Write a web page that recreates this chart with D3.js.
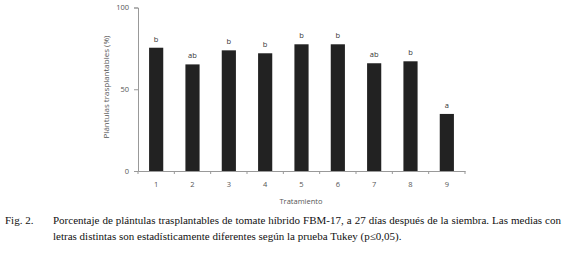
<!DOCTYPE html>
<html>
<head>
<meta charset="utf-8">
<script src="https://cdn.jsdelivr.net/npm/d3@7"></script>
<style>
  body { margin: 0; background: #fff; }
  svg text { font-family: "Open Sans", "DejaVu Sans", sans-serif; }
  svg text.caption { font-family: "Liberation Serif", serif; font-size: 11px; fill: #111; }
</style>
</head>
<body>
<div id="chart"></div>
<script>
// Fig. 2 - plántulas trasplantables por tratamiento
var categories = ["1", "2", "3", "4", "5", "6", "7", "8", "9"];
var values = [75.4, 65.2, 73.8, 72, 77.5, 77.5, 65.9, 67.1, 34.9];
var letters = ["b", "ab", "b", "b", "b", "b", "ab", "b", "a"];
var yTicks = [0, 50, 100];

var width = 563, height = 258;
var plotLeft = 138, plotRight = 465, plotTop = 7.5, plotBottom = 171;

var svg = d3.select("#chart").append("svg")
  .attr("width", width)
  .attr("height", height);

var x = d3.scaleBand().domain(categories).range([plotLeft, plotRight]).paddingInner(0.61).paddingOuter(0.305);
var y = d3.scaleLinear().domain([0, 100]).range([plotBottom, plotTop]);

// bars
svg.append("g").selectAll("rect")
  .data(values)
  .enter().append("rect")
  .attr("x", function(d, i) { return x(categories[i]); })
  .attr("y", function(d) { return y(d); })
  .attr("width", x.bandwidth())
  .attr("height", function(d) { return plotBottom - y(d); })
  .attr("fill", "#222");

// letters
svg.append("g").selectAll("text")
  .data(values)
  .enter().append("text")
  .attr("x", function(d, i) { return x(categories[i]) + x.bandwidth() / 2; })
  .attr("y", function(d) { return y(d) - 6; })
  .attr("text-anchor", "middle")
  .attr("font-size", "7.5px")
  .attr("fill", "#333")
  .text(function(d, i) { return letters[i]; });

// y axis
var yAxis = svg.append("g")
  .attr("transform", "translate(" + plotLeft + ",0)")
  .call(d3.axisLeft(y).tickValues(yTicks).tickSize(4).tickPadding(5));
yAxis.select(".domain").attr("stroke", "#999");
yAxis.selectAll(".tick line").attr("stroke", "#999");
yAxis.selectAll(".tick text").attr("font-size", "7.5px").attr("fill", "#555");

// x axis, ticks between categories
var xAxis = svg.append("g")
  .attr("transform", "translate(0," + plotBottom + ")")
  .call(d3.axisBottom(x).tickSize(0).tickPadding(11));
xAxis.select(".domain").attr("stroke", "#999");
xAxis.selectAll(".tick text").attr("font-size", "7.5px").attr("fill", "#555");
var step = x.step();
svg.append("g").selectAll("line")
  .data(d3.range(categories.length + 1))
  .enter().append("line")
  .attr("x1", function(i) { return plotLeft + i * step; })
  .attr("x2", function(i) { return plotLeft + i * step; })
  .attr("y1", plotBottom)
  .attr("y2", plotBottom + 3)
  .attr("stroke", "#999");

// axis titles
svg.append("text")
  .attr("transform", "translate(107,87) rotate(-90)")
  .attr("text-anchor", "middle")
  .attr("dominant-baseline", "middle")
  .attr("font-size", "8px")
  .attr("fill", "#555")
  .text("Plántulas trasplantables (%)");

svg.append("text")
  .attr("x", 301)
  .attr("y", 204)
  .attr("text-anchor", "middle")
  .attr("font-size", "7.5px")
  .attr("fill", "#555")
  .text("Tratamiento");

// caption
svg.append("text").attr("class", "caption").attr("x", 5).attr("y", 224).text("Fig. 2.");
var line1 = svg.append("text").attr("class", "caption").attr("x", 53).attr("y", 224)
  .text("Porcentaje de plántulas trasplantables de tomate híbrido FBM-17, a 27 días después de la siembra. Las medias con");
svg.append("text").attr("class", "caption").attr("x", 53).attr("y", 239.5)
  .text("letras distintas son estadísticamente diferentes según la prueba Tukey (p≤0,05).");

// justify first line to the right margin
var natural = line1.node().getComputedTextLength();
var gaps = line1.text().split(" ").length - 1;
line1.style("word-spacing", Math.max(0, (508 - natural) / gaps) + "px");
</script>
</body>
</html>
